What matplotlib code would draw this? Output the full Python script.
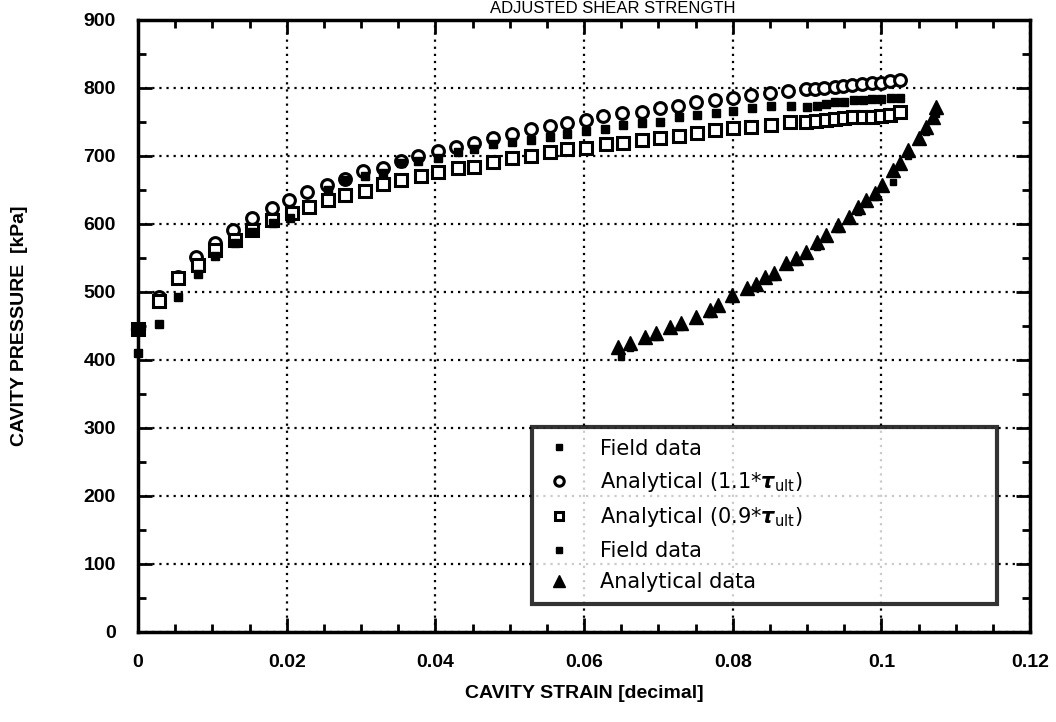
import numpy as np
import matplotlib
matplotlib.use('Agg')
from matplotlib import pyplot as plt
from matplotlib.ticker import MultipleLocator

# Analytical (1.1 * tau_ult)
strain_hi = [0.0, 0.0028, 0.0054, 0.0078, 0.0103, 0.0128, 0.0154, 0.018, 0.0203, 0.0228,
             0.0254, 0.0278, 0.0303, 0.0329, 0.0354, 0.0377, 0.0403, 0.0428, 0.0452, 0.0478,
             0.0503, 0.0529, 0.0554, 0.0577, 0.0603, 0.0626, 0.0651, 0.0678, 0.0702, 0.0726,
             0.075, 0.0776, 0.0801, 0.0824, 0.085, 0.0874, 0.0899, 0.0911, 0.0923, 0.0937,
             0.0949, 0.0961, 0.0974, 0.0987, 0.1, 0.1012, 0.1025]
press_hi = [445, 493, 522, 551, 572, 591, 609, 623, 635, 647,
            657, 666, 678, 682, 693, 700, 707, 713, 719, 726,
            733, 740, 744, 748, 753, 759, 763, 765, 771, 774,
            779, 782, 785, 790, 793, 796, 799, 799, 800, 801,
            803, 804, 806, 807, 808, 810, 812]

# Analytical (0.9 * tau_ult)
strain_lo = [0.0, 0.0028, 0.0054, 0.0081, 0.0103, 0.013, 0.0154, 0.018, 0.0207, 0.023,
             0.0255, 0.0279, 0.0305, 0.0329, 0.0354, 0.0381, 0.0403, 0.043, 0.0452, 0.0478,
             0.0503, 0.0529, 0.0554, 0.0577, 0.0603, 0.063, 0.0652, 0.0678, 0.0702, 0.0728,
             0.0752, 0.0776, 0.08, 0.0824, 0.0851, 0.0877, 0.0899, 0.0912, 0.0925, 0.0937,
             0.095, 0.0962, 0.0975, 0.0987, 0.1, 0.1012, 0.1025]
press_lo = [445, 487, 520, 540, 562, 576, 591, 606, 616, 625,
            635, 643, 649, 659, 665, 671, 677, 682, 684, 691,
            697, 700, 706, 710, 712, 718, 719, 723, 726, 729,
            734, 738, 741, 743, 746, 750, 750, 752, 753, 755,
            756, 757, 758, 758, 759, 761, 764]

# Field data (first test)
strain_f1 = [0.0, 0.0028, 0.0054, 0.0081, 0.0103, 0.013, 0.0154, 0.0181, 0.0205, 0.0255,
             0.0278, 0.0305, 0.0329, 0.0354, 0.0377, 0.0403, 0.043, 0.0452, 0.0477, 0.0503,
             0.0529, 0.0554, 0.0577, 0.0603, 0.0628, 0.0652, 0.0678, 0.0702, 0.0728, 0.0752,
             0.0777, 0.0801, 0.0826, 0.0851, 0.0878, 0.09, 0.0913, 0.0925, 0.0938, 0.095,
             0.0963, 0.0975, 0.0988, 0.1, 0.1013, 0.1025]
press_f1 = [410, 453, 493, 526, 553, 572, 588, 601, 609, 650,
            664, 671, 675, 690, 693, 697, 706, 710, 717, 721,
            723, 728, 732, 737, 740, 746, 749, 750, 757, 761,
            763, 766, 771, 774, 774, 772, 774, 776, 779, 780,
            782, 783, 784, 784, 785, 785]

# Field data (second test)
strain_f2 = [0.065, 0.0662, 0.0697, 0.0729, 0.0769, 0.0799, 0.0831, 0.0855, 0.0885, 0.0913,
             0.0942, 0.0969, 0.0991, 0.1016, 0.1036, 0.106, 0.1074]
press_f2 = [404, 418, 434, 449, 468, 490, 506, 522, 544, 566,
            592, 618, 640, 662, 700, 735, 762]

# Analytical data
strain_an = [0.0646, 0.0662, 0.0682, 0.0697, 0.0715, 0.073, 0.075, 0.0769, 0.078, 0.0799,
             0.0819, 0.0831, 0.0844, 0.0855, 0.0872, 0.0885, 0.0899, 0.0913, 0.0926, 0.0942,
             0.0956, 0.0969, 0.098, 0.0991, 0.1001, 0.1016, 0.1025, 0.1036, 0.105, 0.106,
             0.107, 0.1074]
press_an = [419, 425, 434, 440, 449, 454, 463, 474, 481, 496,
            506, 512, 522, 528, 542, 550, 559, 574, 584, 598,
            610, 625, 635, 646, 657, 679, 690, 709, 726, 743,
            757, 772]

x_ticks = [0, 0.02, 0.04, 0.06, 0.08, 0.1, 0.12]
x_tick_labels = ['0', '0.02', '0.04', '0.06', '0.08', '0.1', '0.12']

fig = plt.figure(figsize=(10.56, 7.22), dpi=100)
ax = fig.add_axes([0.1307, 0.1247, 0.8447, 0.8476])

ax.plot(strain_f1, press_f1, ls='none', marker='s', ms=5.5, color='black',
        clip_on=False, zorder=4, label='Field data')
ax.plot(strain_hi, press_hi, ls='none', marker='o', ms=8.5, mfc='white', mec='black',
        mew=2.2, clip_on=False, zorder=3,
        label=r'Analytical (1.1*$\boldsymbol{\tau}_{\mathrm{ult}}$)')
ax.plot(strain_lo, press_lo, ls='none', marker='s', ms=8, mfc='white', mec='black',
        mew=2.2, clip_on=False, zorder=3,
        label=r'Analytical (0.9*$\boldsymbol{\tau}_{\mathrm{ult}}$)')
ax.plot(strain_f2, press_f2, ls='none', marker='s', ms=5, color='black',
        zorder=3, label='Field data')
ax.plot(strain_an, press_an, ls='none', marker='^', ms=10, color='black',
        zorder=4, label='Analytical data')
# big blob where all the curves start
ax.plot([strain_hi[0]], [press_hi[0]], ls='none', marker='o', ms=10, color='black',
        clip_on=False, zorder=5)

ax.set_xlim(0, 0.12)
ax.set_ylim(0, 900)
ax.xaxis.set_minor_locator(MultipleLocator(0.005))
ax.yaxis.set_major_locator(MultipleLocator(100))
ax.yaxis.set_minor_locator(MultipleLocator(50))
ax.set_xticks(x_ticks)
ax.set_xticklabels(x_tick_labels)

ax.grid(True, which='major', color='black', ls=(0, (1, 2.2)), lw=1.6)
ax.tick_params(which='both', direction='in', top=True, right=True, width=2,
               labelsize=14, color='black')
ax.tick_params(which='major', length=10, pad=16)
ax.tick_params(which='minor', length=6)
for lab in ax.get_xticklabels() + ax.get_yticklabels():
    lab.set_fontweight('bold')
    lab.set_family('Liberation Sans')
for sp in ax.spines.values():
    sp.set_linewidth(2.5)

ax.set_xlabel('CAVITY STRAIN [decimal]', fontsize=14, fontweight='bold',
              family='Liberation Sans', labelpad=10)
ax.set_ylabel('CAVITY PRESSURE  [kPa]', fontsize=14, fontweight='bold',
              family='Liberation Sans', labelpad=40)

leg = ax.legend(loc='lower left', bbox_to_anchor=(0.43, 0.029, 0.545, 0.29),
                mode='expand', frameon=True, fancybox=False, edgecolor='black',
                prop={'family': 'DejaVu Sans', 'size': 15}, handletextpad=1.2,
                labelspacing=0.55, borderpad=0.55, handlelength=1.5, markerscale=0.8)
leg.get_frame().set_linewidth(3)

# title sits right at the top edge of the page
fig.text(0.58, 0.999, 'ADJUSTED SHEAR STRENGTH', ha='center', va='top',
         fontsize=12, family='Liberation Sans')

fig.savefig('out.png', dpi=100)
